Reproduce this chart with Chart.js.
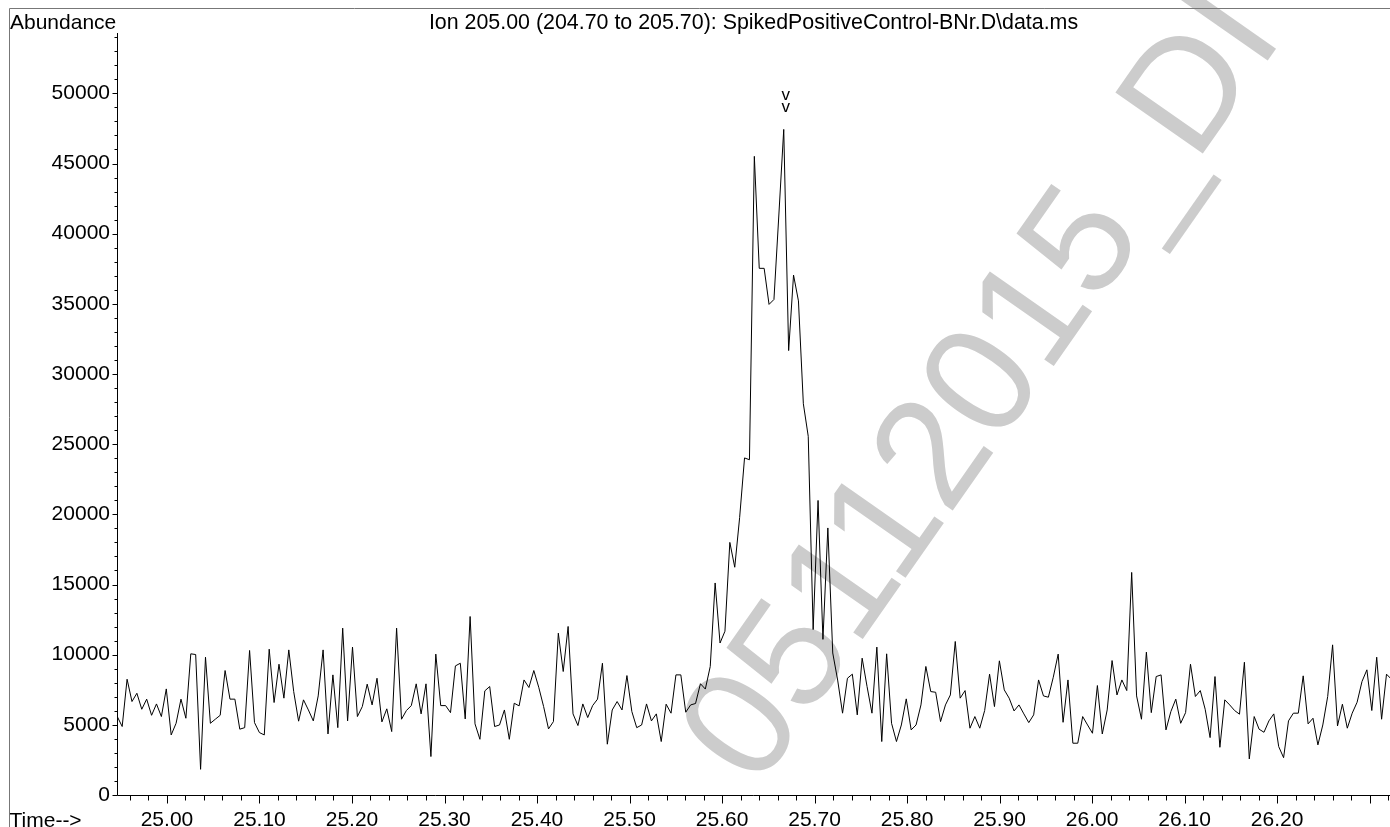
<!DOCTYPE html>
<html>
<head>
<meta charset="utf-8">
<script src="https://cdn.jsdelivr.net/npm/chart.js@4.4.1/dist/chart.umd.min.js"></script>
<style>
  html, body { margin: 0; padding: 0; background: #fff; }
  #wrap { width: 1390px; height: 827px; }
</style>
</head>
<body>
<div id="wrap"><canvas id="ionChart" width="1390" height="827"></canvas></div>
<script>
// scan timing (minutes) and abundance per scan
var startTime = 24.9463;
var scanInterval = 0.005297;
var abundance = [
  5590, 4880, 8250, 6660, 7250, 6110, 6830, 5680, 6490, 5590,
  7560, 4280, 5110, 6830, 5470, 10060, 10010, 1830, 9820, 5110,
  5400, 5680, 8870, 6830, 6830, 4690, 4800, 10300, 5160, 4450,
  4280, 10390, 6590, 9320, 6900, 10340, 7370, 5260, 6780, 6060,
  5280, 7060, 10340, 4350, 8560, 4800, 11890, 5280, 10540, 5590,
  6300, 7900, 6420, 8320, 5210, 6140, 4520, 11890, 5400, 6020,
  6370, 7920, 5780, 7920, 2740, 10040, 6370, 6370, 5870, 9200,
  9390, 5420, 12720, 5070, 3970, 7420, 7730, 4880, 4990, 6060,
  3970, 6540, 6350, 8200, 7660, 8870, 7680, 6300, 4710, 5230,
  11530, 8800, 12010, 5780, 4950, 6490, 5520, 6370, 6830, 9390,
  3620, 6060, 6660, 6060, 8510, 5950, 4800, 4990, 6490, 5280,
  5780, 3810, 6470, 5830, 8560, 8560, 5900, 6420, 6520, 7930,
  7550, 9160, 15110, 10830, 11670, 18000, 16230, 19770, 24020, 23890,
  45510, 37530, 37530, 34960, 35310, 41330, 47430, 31670, 37050, 35210,
  27880, 25560, 11790, 20990, 11090, 19030, 10120, 8190, 5830, 8320,
  8610, 5710, 9750, 7730, 5830, 10540, 3810, 10060, 5110, 3810,
  4990, 6850, 4640, 4990, 6420, 9160, 7370, 7320, 5230, 6420,
  7130, 10940, 6900, 7440, 4760, 5590, 4760, 6020, 8610, 6300,
  9560, 7490, 6900, 5990, 6420, 5780, 5160, 5710, 8200, 7060,
  6970, 8390, 10040, 5180, 8200, 3690, 3690, 5590, 4990, 4400,
  7800, 4350, 6060, 9580, 7130, 8200, 7440, 15860, 7060, 5400,
  10180, 5870, 8440, 8560, 4640, 5950, 6830, 5110, 5870, 9320,
  7020, 7440, 6110, 4090, 8440, 3400, 6780, 6420, 6020, 5760,
  9460, 2570, 5590, 4690, 4470, 5280, 5780, 3450, 2660, 5280,
  5830, 5830, 8490, 5070, 5470, 3570, 4990, 7020, 10700, 4920,
  6470, 4760, 5830, 6610, 8090, 8920, 6020, 9820, 5400, 8610,
  8250
];

var timeRange = [24.946, 26.322];
var abundanceRange = [0, 54300];
var timeMinorStep = 0.02;
var timeLabelStep = 0.1;
var abundanceMinorStep = 1000;
var abundanceLabelStep = 5000;

var titleText = 'Ion 205.00 (204.70 to 205.70): SpikedPositiveControl-BNr.D\\data.ms';
var yAxisName = 'Abundance';
var xAxisName = 'Time-->';
var watermarkText = '05112015_DI';

var fontFamily = '"Liberation Sans", Arial, Helvetica, sans-serif';

var points = abundance.map(function (v, i) {
    return { x: startTime + i * scanInterval, y: v };
});

function onStep(value, step) {
    var r = Math.round(value / step);
    return Math.abs(value / step - r) < 1e-6;
}

// ticks on every multiple of step inside the scale range
function stepTicks(step) {
    return function (scale) {
        var ticks = [];
        var k0 = Math.ceil(scale.min / step - 1e-9);
        var k1 = Math.floor(scale.max / step + 1e-9);
        for (var k = k0; k <= k1; k++) {
            ticks.push({ value: parseFloat((k * step).toFixed(6)) });
        }
        scale.ticks = ticks;
    };
}

var chromPlugin = {
    id: 'chromDecor',
    beforeDatasetsDraw: function (chart) {
        var ctx = chart.ctx;
        // date stamp watermark, behind the trace
        ctx.save();
        ctx.translate(757, 790);
        ctx.rotate(-55 * Math.PI / 180);
        ctx.fillStyle = '#cccccc';
        ctx.font = '155px ' + fontFamily;
        ctx.textAlign = 'left';
        ctx.textBaseline = 'alphabetic';
        ctx.fillText(watermarkText, 0, 0);
        ctx.restore();
    },
    afterDraw: function (chart) {
        var ctx = chart.ctx;
        var area = chart.chartArea;
        var xs = chart.scales.x;
        var ys = chart.scales.y;

        ctx.save();
        // outer frame, only left and top edges show
        ctx.strokeStyle = '#777';
        ctx.lineWidth = 1;
        ctx.beginPath();
        ctx.moveTo(9.5, chart.height);
        ctx.lineTo(9.5, 8.5);
        ctx.lineTo(chart.width, 8.5);
        ctx.stroke();

        // axis lines and tick marks
        ctx.strokeStyle = '#000';
        ctx.beginPath();
        var left = Math.round(area.left) + 0.5;
        var bottom = Math.round(area.bottom) + 0.5;
        ctx.moveTo(left, area.top);
        ctx.lineTo(left, bottom);
        ctx.lineTo(area.right, bottom);
        xs.ticks.forEach(function (t) {
            var px = Math.round(xs.getPixelForValue(t.value)) + 0.5;
            var len = onStep(t.value, timeLabelStep) ? 8 : 5;
            ctx.moveTo(px, bottom);
            ctx.lineTo(px, bottom + len);
        });
        ys.ticks.forEach(function (t) {
            var py = Math.round(ys.getPixelForValue(t.value)) + 0.5;
            var len = onStep(t.value, abundanceLabelStep) ? 5 : 3;
            ctx.moveTo(left, py);
            ctx.lineTo(left - len, py);
        });
        ctx.stroke();

        // captions
        ctx.fillStyle = '#000';
        ctx.font = '21px ' + fontFamily;
        ctx.textBaseline = 'alphabetic';
        ctx.textAlign = 'left';
        ctx.fillText(yAxisName, 10, 29);
        ctx.fillText(xAxisName, 9.5, 827);
        ctx.textAlign = 'center';
        ctx.font = '21.4px ' + fontFamily;
        ctx.fillText(titleText, (area.left + area.right) / 2, 29);

        // apex markers over the highest scan
        var top = 0;
        for (var i = 1; i < abundance.length; i++) {
            if (abundance[i] > abundance[top]) top = i;
        }
        var apx = xs.getPixelForValue(points[top].x);
        var apy = ys.getPixelForValue(points[top].y);
        ctx.font = '17px ' + fontFamily;
        ctx.fillText('v', apx + 2, apy - 17);
        ctx.fillText('v', apx + 2, apy - 29);
        ctx.restore();
    }
};

var ctx = document.getElementById('ionChart').getContext('2d');
Chart.defaults.font.family = fontFamily;

var ionChart = new Chart(ctx, {
    type: 'line',
    data: {
        datasets: [{
            data: points,
            borderColor: '#000',
            borderWidth: 1,
            pointRadius: 0,
            tension: 0,
            fill: false
        }]
    },
    options: {
        responsive: false,
        animation: false,
        events: [],
        layout: { padding: { left: 0, top: 33, right: 0, bottom: 0 } },
        plugins: {
            legend: { display: false },
            tooltip: { enabled: false },
            title: { display: false }
        },
        scales: {
            x: {
                type: 'linear',
                min: timeRange[0],
                max: timeRange[1],
                afterBuildTicks: stepTicks(timeMinorStep),
                afterFit: function (s) { s.height = 32; s.paddingLeft = 0; s.paddingRight = 0; },
                grid: { display: false, drawTicks: false },
                border: { display: false },
                ticks: {
                    autoSkip: false,
                    maxRotation: 0,
                    padding: 13,
                    color: '#000',
                    font: { size: 21 },
                    callback: function (value) {
                        if (!onStep(value, timeLabelStep)) return '';
                        if (value > timeRange[1] - 0.03) return '';
                        return value.toFixed(2);
                    }
                }
            },
            y: {
                min: abundanceRange[0],
                max: abundanceRange[1],
                afterBuildTicks: stepTicks(abundanceMinorStep),
                afterFit: function (s) { s.width = 117; s.paddingTop = 0; s.paddingBottom = 0; },
                grid: { display: false, drawTicks: false },
                border: { display: false },
                ticks: {
                    autoSkip: false,
                    padding: 7,
                    color: '#000',
                    font: { size: 21 },
                    callback: function (value) {
                        return onStep(value, abundanceLabelStep) ? String(value) : '';
                    }
                }
            }
        }
    },
    plugins: [chromPlugin]
});
</script>
</body>
</html>
